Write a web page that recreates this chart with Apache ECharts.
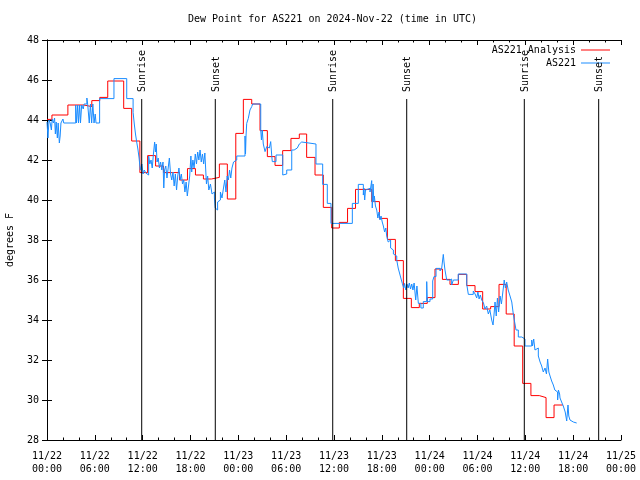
<!DOCTYPE html>
<html>
<head>
<meta charset="utf-8">
<script src="https://cdn.jsdelivr.net/npm/echarts@6/dist/echarts.min.js"></script>
<style>html,body{margin:0;padding:0;background:#fff}#c{width:640px;height:480px}</style>
</head>
<body>
<div id="c"></div>
<script>
// ---- data (hours since 2024-11-22 00:00 UTC, dew point in F) ----
const chartTitle = 'Dew Point for AS221 on 2024-Nov-22 (time in UTC)';
const yAxisName = 'degrees F';
const seriesNames = ['AS221 Analysis', 'AS221'];
const xMinHours = 0, xMaxHours = 72, xStepHours = 6;
const yMinF = 28, yMaxF = 48, yStepF = 2;

const analysisPoints = [
  [0.00,44.03],[0.62,44.25],[2.62,44.75],[4.62,44.67],[5.62,44.97],[6.62,45.13],[7.62,45.95],
  [9.62,44.58],[10.62,42.95],[11.65,41.37],[12.62,42.22],[13.62,41.7],[14.62,41.37],[16.62,41.0],
  [17.62,41.57],[18.62,41.25],[19.62,41.05],[20.62,41.13],[21.62,41.8],[22.62,40.05],[23.68,43.33],
  [24.63,45.03],[25.68,44.8],[26.72,43.47],[27.64,42.17],[28.6,41.73],[29.56,42.47],[30.6,43.08],
  [31.65,43.3],[32.57,42.13],[33.62,41.25],[34.66,39.63],[35.71,38.6],[36.67,38.88],[37.7,39.58],
  [38.7,40.53],[40.73,39.92],[41.7,39.08],[42.7,38.03],[43.7,36.97],[44.7,35.08],[45.7,34.62],
  [46.7,34.83],[47.7,35.12],[48.67,36.55],[49.6,36.03],[50.55,35.78],[51.6,36.28],[52.65,35.72],
  [53.69,35.42],[54.65,34.55],[55.65,34.67],[56.7,35.78],[57.6,34.3],[58.6,32.7],[59.67,30.83],
  [60.7,30.22],[61.75,30.12],[62.6,29.12],[63.6,29.75],[64.7,29.75]
];

const obsPoints = [
  [0.00,43.9],[0.12,43.1],[0.25,44.0],[0.40,43.85],[0.55,43.5],[0.65,44.05],[0.80,43.85],[0.95,44.1],
  [1.05,43.3],[1.15,43.9],[1.30,43.1],[1.40,43.85],[1.55,42.85],[1.65,43.2],[1.75,43.85],[2.00,44.05],
  [2.10,43.85],[3.60,44.75],[3.70,43.85],[3.85,44.75],[3.95,43.85],[4.10,44.75],[4.20,43.85],[4.35,44.75],
  [4.55,44.55],[4.65,44.8],[5.00,45.1],[5.10,44.8],[5.30,43.85],[5.45,44.8],[5.60,43.85],[5.75,44.8],
  [5.90,43.85],[6.05,44.3],[6.15,43.85],[6.60,45.07],[8.40,46.07],[10.00,45.07],[10.80,44.38],[10.95,43.8],
  [11.10,43.3],[11.25,42.9],[11.40,42.55],[11.55,42.1],[11.70,41.5],[11.90,41.8],[12.05,41.3],[12.20,41.5],
  [12.40,41.35],[12.60,41.25],[12.75,42.2],[12.90,41.8],[13.05,42.0],[13.20,41.6],[13.35,42.3],[13.50,42.9],
  [13.60,42.4],[13.70,42.8],[13.80,41.9],[13.95,42.1],[14.10,41.6],[14.25,41.9],[14.40,41.5],[14.55,41.9],
  [14.65,40.6],[14.75,41.5],[14.90,41.7],[15.05,41.1],[15.20,41.6],[15.35,42.1],[15.50,41.3],[15.65,41.0],
  [15.80,41.4],[15.95,40.7],[16.10,41.3],[16.25,40.5],[16.40,41.2],[16.55,41.6],[16.70,41.0],[16.85,41.3],
  [17.00,40.8],[17.15,41.0],[17.30,40.4],[17.45,40.9],[17.60,40.2],[17.75,40.7],[17.90,41.2],[18.05,42.2],
  [18.15,41.4],[18.30,42.0],[18.45,41.6],[18.60,42.3],[18.75,41.8],[18.90,42.4],[19.05,42.0],[19.20,42.5],
  [19.35,41.9],[19.50,42.3],[19.65,41.8],[19.80,42.35],[20.00,40.8],[20.15,41.2],[20.30,40.5],[20.50,40.8],
  [20.70,40.3],[20.85,40.4],[21.00,40.1],[21.10,39.6],[21.25,39.5],[21.40,39.9],[21.55,40.0],[21.75,40.4],
  [21.95,40.1],[22.10,40.5],[22.30,41.0],[22.45,40.4],[22.60,41.2],[22.75,41.0],[22.90,41.5],[23.05,41.1],
  [23.20,41.6],[23.40,41.9],[23.60,42.0],[23.80,42.2],[24.84,43.2],[24.90,42.3],[24.97,43.25],[25.05,43.83],
  [25.25,44.08],[25.46,44.5],[25.68,44.67],[25.80,44.8],[26.81,43.5],[26.90,43.0],[27.00,43.5],[27.13,42.8],
  [27.35,42.42],[27.56,42.67],[27.76,42.6],[27.89,42.7],[28.06,42.92],[28.20,42.17],[28.26,41.92],[28.73,42.25],
  [29.57,41.25],[29.75,41.3],[30.07,41.5],[30.70,42.5],[31.00,42.55],[31.20,42.6],[31.40,42.55],[31.65,42.8],
  [31.80,42.9],[31.95,42.8],[33.74,41.8],[34.58,40.78],[35.16,39.83],[35.62,38.83],[38.30,39.83],[39.05,40.78],
  [39.68,40.25],[39.75,40.6],[39.85,40.0],[39.95,40.5],[40.10,40.58],[40.52,40.4],[40.73,40.97],[40.80,39.6],
  [40.90,40.8],[41.00,39.9],[41.06,40.2],[41.20,39.7],[41.36,39.5],[41.50,39.1],[41.65,39.4],[41.77,39.0],
  [41.90,39.2],[42.05,38.9],[42.19,38.7],[42.35,38.4],[42.50,38.6],[42.61,38.2],[42.80,37.9],[42.95,38.0],
  [43.10,37.6],[43.24,37.5],[43.45,37.3],[43.65,37.2],[43.87,37.0],[44.05,36.6],[44.25,36.3],[44.45,36.0],
  [44.57,35.83],[44.75,35.6],[44.85,35.83],[45.00,35.5],[45.15,35.8],[45.30,35.6],[45.45,35.85],[45.60,35.55],
  [45.75,35.8],[45.90,35.5],[46.05,35.85],[46.25,35.0],[46.40,35.7],[46.58,34.83],[46.90,34.6],[47.20,34.92],
  [47.63,35.92],[47.70,34.92],[48.04,35.05],[48.38,35.95],[48.54,36.17],[48.80,36.58],[49.30,36.45],[49.51,36.6],
  [49.71,37.28],[49.80,36.9],[49.92,36.5],[50.14,36.0],[50.50,36.05],[50.76,35.75],[50.97,36.0],[51.59,36.3],
  [52.65,35.78],[52.85,35.28],[53.47,35.45],[53.70,35.3],[53.90,35.1],[54.05,35.4],[54.20,35.05],[54.35,35.25],
  [54.53,35.0],[54.75,34.85],[54.94,34.55],[55.15,34.7],[55.36,34.3],[55.55,34.5],[55.78,34.0],[55.95,33.75],
  [56.10,34.4],[56.20,34.9],[56.35,34.2],[56.50,35.1],[56.65,34.4],[56.83,35.2],[57.00,34.8],[57.24,35.6],
  [57.35,36.0],[57.50,35.6],[57.66,35.9],[57.85,35.5],[58.08,35.2],[58.30,34.9],[58.49,34.3],[58.70,33.8],
  [58.83,33.5],[59.12,33.15],[59.55,33.05],[59.96,32.7],[60.80,33.0],[60.90,32.7],[61.05,33.05],[61.21,32.5],
  [61.40,32.6],[61.63,32.2],[61.85,31.9],[62.05,31.7],[62.25,31.4],[62.47,31.6],[62.65,31.3],[62.80,32.05],
  [62.95,31.4],[63.10,31.2],[63.30,30.95],[63.51,30.75],[63.70,30.5],[63.94,30.4],[64.05,30.0],[64.15,30.5],
  [64.30,30.3],[64.35,30.1],[64.55,29.9],[64.76,29.7],[65.00,29.4],[65.19,28.95],[65.35,29.75],[65.45,29.2],
  [65.60,29.0],[65.82,28.9],[66.02,28.85],[66.44,28.85]
];

const sunHours = [11.88, 21.11, 35.84, 45.12, 59.87, 69.2];
const sunNames = ['Sunrise', 'Sunset', 'Sunrise', 'Sunset', 'Sunrise', 'Sunset'];

// ---- chart ----
const FONT = 'DejaVu Sans Mono';
const SUN_LINE_TOP = 45.05;
const RED = '#ff0000', BLUE = '#1a8cff';

function fmtX(h) {
  const day = 22 + Math.floor(h / 24);
  const hr = Math.round(h % 24);
  return '11/' + day + '\n' + String(hr).padStart(2, '0') + ':00';
}

const axisCommon = {
  axisLine: { show: true, lineStyle: { color: '#000', width: 1 } },
  axisTick: { show: true, inside: true, length: 5, lineStyle: { color: '#000' } },
  splitLine: { show: false }
};

const chart = echarts.init(document.getElementById('c'), null, { renderer: 'canvas' });
chart.setOption({
  animation: false,
  backgroundColor: '#fff',
  textStyle: { fontFamily: FONT },
  title: {
    text: chartTitle, left: 188, top: 14, padding: 0,
    textStyle: { fontFamily: FONT, fontSize: 10, fontWeight: 'normal', color: '#000' }
  },
  legend: {
    orient: 'vertical', right: 30, top: 45, padding: 0, align: 'right',
    itemWidth: 29, itemHeight: 1, itemGap: 3,
    data: [
      { name: seriesNames[0], icon: 'rect', itemStyle: { color: RED } },
      { name: seriesNames[1], icon: 'rect', itemStyle: { color: BLUE } }
    ],
    textStyle: { fontFamily: FONT, fontSize: 10, color: '#000' }
  },
  grid: { left: 47, right: 19, top: 40, bottom: 40, containLabel: false, outerBoundsMode: 'none' },
  xAxis: [
    Object.assign({}, axisCommon, {
      type: 'value', min: xMinHours, max: xMaxHours, interval: xStepHours, position: 'bottom',
      minorTick: { show: true, splitNumber: 3, length: 2.5, lineStyle: { color: '#000' } },
      axisLabel: { formatter: fmtX, fontFamily: FONT, fontSize: 10, color: '#000', margin: 10, lineHeight: 13 }
    }),
    Object.assign({}, axisCommon, {
      type: 'value', min: xMinHours, max: xMaxHours, interval: xStepHours, position: 'top',
      minorTick: { show: true, splitNumber: 3, length: 2.5, lineStyle: { color: '#000' } },
      axisLabel: { show: false }
    })
  ],
  yAxis: [
    Object.assign({}, axisCommon, {
      type: 'value', min: yMinF, max: yMaxF, interval: yStepF, position: 'left',
      name: yAxisName, nameLocation: 'middle', nameGap: 32,
      nameTextStyle: { fontFamily: FONT, fontSize: 10, color: '#000' },
      axisLabel: { fontFamily: FONT, fontSize: 10, color: '#000', margin: 8 }
    }),
    Object.assign({}, axisCommon, {
      type: 'value', min: yMinF, max: yMaxF, interval: yStepF, position: 'right',
      axisLabel: { show: false }
    })
  ],
  series: [
    {
      name: seriesNames[0], type: 'line', step: 'end', showSymbol: false, symbol: 'none',
      data: analysisPoints, lineStyle: { color: RED, width: 1 }, itemStyle: { color: RED },
      z: 2
    },
    {
      name: seriesNames[1], type: 'line', step: 'end', showSymbol: false, symbol: 'none',
      data: obsPoints, lineStyle: { color: BLUE, width: 1 }, itemStyle: { color: BLUE },
      z: 3
    },
    {
      type: 'custom', name: 'sun', silent: true, z: 4,
      data: sunHours.map(h => [h]),
      encode: { x: 0 },
      renderItem: function (params, api) {
        const t = api.value(0);
        const top = api.coord([t, SUN_LINE_TOP]);
        const bot = api.coord([t, yMinF]);
        return {
          type: 'group',
          children: [
            { type: 'line', shape: { x1: top[0], y1: top[1], x2: bot[0], y2: bot[1] },
              style: { stroke: '#000', lineWidth: 1 } },
            { type: 'text', x: top[0] + 1, y: top[1] - 7, rotation: Math.PI / 2,
              style: { text: sunNames[params.dataIndex], textAlign: 'left', textVerticalAlign: 'middle',
                       font: '10px ' + FONT, fill: '#000' } }
          ]
        };
      }
    }
  ]
});
</script>
</body>
</html>
